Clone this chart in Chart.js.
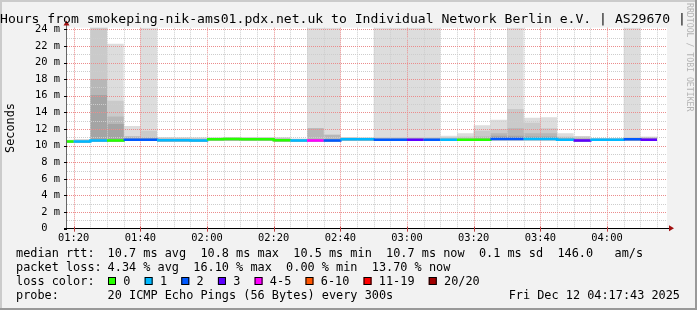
<!DOCTYPE html>
<html>
<head>
<meta charset="utf-8">
<script src="https://cdn.jsdelivr.net/npm/chart.js@4.4.1/dist/chart.umd.min.js"></script>
<style>
  html, body { margin: 0; padding: 0; background: #f2f2f2; }
</style>
</head>
<body>
<canvas id="graph" width="697" height="310"></canvas>
<script>
// 5 minute steps, minutes after midnight (last point only closes the final step)
var stepStart = [75, 80, 85, 90, 95, 100, 105, 110, 115, 120, 125, 130, 135, 140, 145, 150, 155, 160,
    165, 170, 175, 180, 185, 190, 195, 200, 205, 210, 215, 220, 225, 230, 235, 240, 245, 250, 255];

// median rtt in ms
var medianRtt = [10.5, 10.5, 10.6, 10.6, 10.7, 10.7, 10.65, 10.65, 10.6, 10.75, 10.8, 10.75, 10.75, 10.63,
    10.6, 10.6, 10.6, 10.75, 10.75, 10.7, 10.7, 10.7, 10.7, 10.7, 10.7, 10.7, 10.8, 10.8, 10.8, 10.8,
    10.7, 10.6, 10.7, 10.7, 10.75, 10.7, 10.7];

// lost pings out of 20 (average per step)
var lostPings = [0, 0.7, 0.8, 0, 1.5, 1.4, 0.6, 0.7, 0.7, 0, 0, 0, 0, 0, 0.6, 3.22, 1.5, 0.7, 0.8, 1.6,
    1.4, 2.5, 1.5, 0.7, 0, 0, 1.6, 1.5, 0.8, 0.7, 0.6, 2.4, 0.7, 0.6, 1.5, 2.74, 2.74];

// smoke: lowest ping and four upper levels (inner -> outer), ms
var smokeLo = [10.35, 10.35, 10.45, 10.45, 10.55, 10.55, 10.5, 10.5, 10.45, 10.6, 10.6, 10.6, 10.6, 10.5,
    10.45, 10.45, 10.45, 10.6, 10.6, 10.55, 10.55, 10.55, 10.55, 10.55, 10.55, 10.55, 10.65, 10.65, 10.65,
    10.65, 10.55, 10.45, 10.55, 10.55, 10.6, 10.55, 10.55];
var smoke1 = [10.55, 10.55, 16.1, 12.6, 10.85, 10.85, 10.75, 10.75, 10.7, 10.85, 10.9, 10.85, 10.85, 10.75,
    10.7, 10.75, 10.75, 10.85, 10.85, 10.8, 10.8, 10.8, 10.8, 10.8, 10.8, 10.85, 11.2, 11.2, 11.1, 11.1,
    10.85, 10.8, 10.8, 10.8, 10.85, 10.85, 10.85];
var smoke2 = [10.6, 10.65, 18.0, 13.5, 11.1, 11.0, 10.85, 10.85, 10.8, 10.9, 10.95, 10.9, 10.9, 10.85,
    10.75, 12.1, 11.3, 10.9, 10.9, 10.9, 10.9, 10.9, 10.9, 10.9, 10.95, 11.1, 11.5, 12.1, 11.5, 11.5,
    11.0, 10.95, 10.85, 10.85, 10.9, 10.95, 10.95];
var smoke3 = [10.65, 10.7, 26, 15.4, 11.15, 11.8, 10.95, 10.95, 10.9, 10.95, 11.0, 11.0, 11.0, 10.95,
    10.8, 12.1, 11.3, 11.0, 10.95, 11.0, 11.0, 11.0, 11.0, 11.0, 11.1, 11.8, 12.0, 14.4, 12.75, 12.1,
    11.1, 11.1, 10.85, 10.85, 11.0, 11.05, 11.05];
var smoke4 = [10.7, 10.8, 26, 22.25, 12.35, 26, 11.05, 11.0, 11.0, 11.0, 11.05, 11.05, 11.05, 11.0,
    10.85, 26, 26, 11.05, 11.0, 26, 26, 26, 26, 11.2, 11.5, 12.45, 13.1, 26, 13.35, 13.4,
    11.5, 11.15, 10.9, 10.9, 26, 11.1, 11.1];

var xTickLabels = ['01:20', '01:40', '02:00', '02:20', '02:40', '03:00', '03:20', '03:40', '04:00'];

var lossLabels = ['0', '1', '2', '3', '4-5', '6-10', '11-19', '20/20'];
var lossLimits = [0, 1, 2, 3, 5, 10, 19, 20];
var lossColors = ['#26ff00', '#00b8ff', '#0059ff', '#5e00ff', '#ff00ff', '#ff5500', '#ff0000', '#a10000'];

var medianStats = ['10.7 ms avg', '10.8 ms max', '10.5 ms min', '10.7 ms now', '0.1 ms sd', '146.0   am/s'];
var lossStats = ['4.34 % avg', '16.10 % max', '0.00 % min', '13.70 % now'];
var probeText = '20 ICMP Echo Pings (56 Bytes) every 300s';
var dateText = 'Fri Dec 12 04:17:43 2025';
var titleText = 'Hours from smokeping-nik-ams01.pdx.net.uk to Individual Network Berlin e.V. | AS29670 |';

var MONO = "'DejaVu Sans Mono', monospace";

function lossBucket(n) {
    for (var i = 0; i < lossLimits.length; i++) {
        if (n <= lossLimits[i]) return i;
    }
    return lossLimits.length - 1;
}

function points(arr) {
    return stepStart.map(function (t, i) { return {x: t, y: arr[i]}; });
}

function smokeSet(arr, color, order) {
    return {
        data: points(arr),
        stepped: true,
        borderWidth: 0,
        borderColor: 'transparent',
        backgroundColor: color,
        pointRadius: 0,
        fill: 0,
        order: order
    };
}

var datasets = [
    {data: points(smokeLo), stepped: true, borderWidth: 0, borderColor: 'transparent', pointRadius: 0, fill: false, order: 5},
    smokeSet(smoke4, '#dddddd', 4),
    smokeSet(smoke3, '#cacaca', 3),
    smokeSet(smoke2, '#b7b7b7', 2),
    smokeSet(smoke1, '#a4a4a4', 1),
    {
        data: points(medianRtt),
        stepped: true,
        borderWidth: 2.5,
        borderColor: lossColors[0],
        borderCapStyle: 'butt',
        pointRadius: 0,
        fill: false,
        order: 0,
        segment: {
            borderColor: function (ctx) { return lossColors[lossBucket(lostPings[ctx.p0DataIndex])]; }
        }
    }
];

function px(v) { return Math.round(v) + 0.5; }

var rrdLook = {
    id: 'rrdLook',
    beforeDraw: function (chart) {
        var c = chart.ctx, a = chart.chartArea;
        c.save();
        c.fillStyle = '#f2f2f2';
        c.fillRect(0, 0, chart.width, chart.height);
        c.fillStyle = '#cbcbcb';
        c.fillRect(0, 0, chart.width, 2);
        c.fillRect(0, 0, 2, chart.height);
        c.fillStyle = '#999999';
        c.fillRect(0, chart.height - 2, chart.width, 2);
        c.fillRect(chart.width - 2, 0, 2, chart.height);
        c.fillStyle = '#ffffff';
        c.fillRect(a.left, a.top, a.right - a.left, a.bottom - a.top);
        c.restore();
    },
    afterDatasetDraw: function (chart, args) {
        if (args.index !== 4) return;
        // grid on top of the smoke, below the median line
        var c = chart.ctx, a = chart.chartArea;
        var xs = chart.scales.x, ys = chart.scales.y;
        c.save();
        c.lineWidth = 1;
        c.setLineDash([1, 1]);
        xs.ticks.forEach(function (t) {
            var x = px(xs.getPixelForValue(t.value));
            c.strokeStyle = t.value % 20 === 0 ? '#eb8c8c' : '#cdcdcd';
            c.beginPath();
            c.moveTo(x, a.bottom);
            c.lineTo(x, a.top);
            c.stroke();
        });
        ys.ticks.forEach(function (t) {
            if (t.value === 0) return;
            var y = px(ys.getPixelForValue(t.value));
            c.strokeStyle = t.value % 2 === 0 ? '#eb8c8c' : '#cdcdcd';
            c.beginPath();
            c.moveTo(a.left, y);
            c.lineTo(a.right, y);
            c.stroke();
        });
        c.restore();
    },
    afterDraw: function (chart) {
        var c = chart.ctx, a = chart.chartArea;
        var xs = chart.scales.x, ys = chart.scales.y;
        c.save();

        // axes
        c.lineWidth = 1;
        c.strokeStyle = '#666666';
        c.beginPath();
        c.moveTo(px(a.left) - 1, a.bottom);
        c.lineTo(px(a.left) - 1, a.top - 3);
        c.stroke();
        c.strokeStyle = '#000000';
        c.beginPath();
        c.moveTo(a.left - 3, px(a.bottom) - 1);
        c.lineTo(a.right + 3, px(a.bottom) - 1);
        c.stroke();
        ys.ticks.forEach(function (t) {
            if (t.value % 2) return;
            var y = px(ys.getPixelForValue(t.value));
            c.beginPath();
            c.moveTo(a.left - 3, y);
            c.lineTo(a.left, y);
            c.stroke();
        });
        c.strokeStyle = '#c04040';
        xs.ticks.forEach(function (t) {
            if (t.value % 20) return;
            var x = px(xs.getPixelForValue(t.value));
            c.beginPath();
            c.moveTo(x, a.bottom - 2);
            c.lineTo(x, a.bottom + 3);
            c.stroke();
        });
        // arrows
        c.fillStyle = '#a01010';
        c.beginPath();
        c.moveTo(a.left - 3.5, a.top - 2);
        c.lineTo(a.left + 2.5, a.top - 2);
        c.lineTo(a.left - 0.5, a.top - 7);
        c.closePath();
        c.fill();
        c.beginPath();
        c.moveTo(a.right + 2, a.bottom - 3.5);
        c.lineTo(a.right + 2, a.bottom + 2.5);
        c.lineTo(a.right + 7, a.bottom - 0.5);
        c.closePath();
        c.fill();

        // title
        c.fillStyle = '#000000';
        c.font = '13.1px ' + MONO;
        c.textBaseline = 'middle';
        c.textAlign = 'left';
        c.fillText(titleText, 0, 20);

        // unit label
        c.save();
        c.translate(11, 128);
        c.rotate(-Math.PI / 2);
        c.font = '11.86px ' + MONO;
        c.textAlign = 'center';
        c.fillText('Seconds', 0, 0);
        c.restore();

        // watermark
        c.save();
        c.translate(689, 3);
        c.rotate(Math.PI / 2);
        c.font = '8.2px ' + MONO;
        c.fillStyle = '#b4b4b4';
        c.textAlign = 'left';
        c.fillText('RRDTOOL / TOBI OETIKER', 0, 0);
        c.restore();

        // legend
        c.font = '11.86px ' + MONO;
        c.fillStyle = '#000000';
        c.textAlign = 'left';
        var lx = 16, vx = 107.6;
        c.fillText('median rtt:', lx, 254);
        c.fillText(medianStats.join('  '), vx, 254);
        c.fillText('packet loss:', lx, 268);
        c.fillText(lossStats.join('  '), vx, 268);
        c.fillText('loss color:', lx, 282);
        var bx = 108;
        lossLabels.forEach(function (lab, i) {
            c.fillStyle = lossColors[i];
            c.fillRect(bx, 277, 8, 8);
            c.strokeStyle = '#000000';
            c.lineWidth = 1;
            c.strokeRect(bx + 0.5, 277.5, 7, 7);
            c.fillStyle = '#000000';
            c.fillText(lab, bx + 15.3, 282);
            bx += 15.3 + c.measureText(lab).width + 14.2;
        });
        c.fillText('probe:', lx, 296);
        c.fillText(probeText, vx, 296);
        c.textAlign = 'right';
        c.fillText(dateText, 680, 296);
        c.restore();
    }
};

new Chart(document.getElementById('graph'), {
    type: 'line',
    data: {datasets: datasets},
    options: {
        responsive: false,
        devicePixelRatio: 1,
        animation: false,
        layout: {padding: {left: 0, right: 30, top: 27.6, bottom: 61.3}},
        plugins: {legend: {display: false}, tooltip: {enabled: false}},
        elements: {line: {tension: 0}},
        scales: {
            x: {
                type: 'linear',
                min: 78,
                max: 258,
                grid: {display: false, drawTicks: false},
                border: {display: false},
                afterFit: function (s) { s.height = 20; },
                afterBuildTicks: function (s) {
                    s.ticks = stepStart.slice(1).map(function (v) { return {value: v}; });
                },
                ticks: {
                    autoSkip: false,
                    maxRotation: 0,
                    padding: 3,
                    color: '#000000',
                    font: {family: MONO, size: 10.4},
                    callback: function (v) {
                        return v % 20 === 0 ? xTickLabels[(v - 80) / 20] : '';
                    }
                }
            },
            y: {
                type: 'linear',
                min: 0,
                max: 24.2,
                grid: {display: false, drawTicks: false},
                border: {display: false},
                afterFit: function (s) { s.width = 67; },
                ticks: {
                    stepSize: 1,
                    includeBounds: false,
                    autoSkip: false,
                    padding: 7,
                    color: '#000000',
                    font: {family: MONO, size: 10.4},
                    callback: function (v) {
                        if (v % 2) return '';
                        return v === 0 ? '0  ' : v + ' m';
                    }
                }
            }
        }
    },
    plugins: [rrdLook]
});
</script>
</body>
</html>
